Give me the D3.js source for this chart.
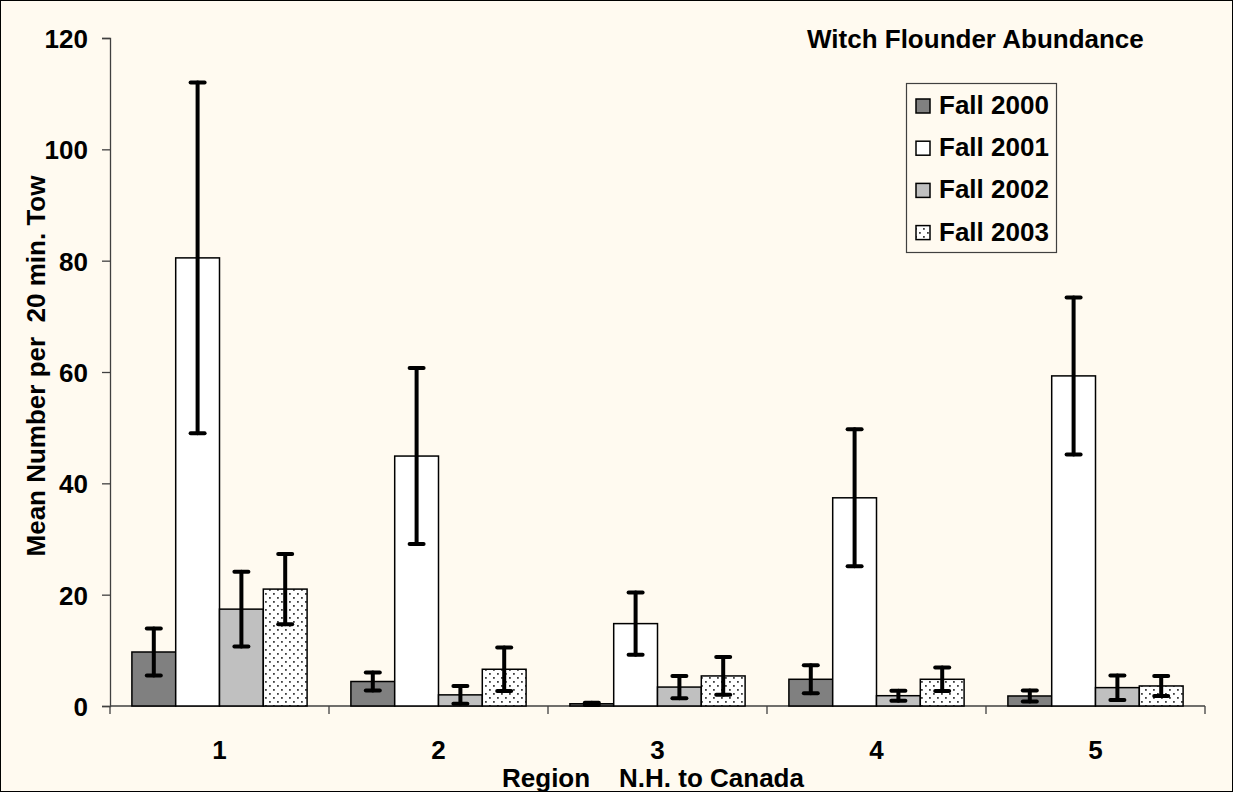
<!DOCTYPE html>
<html><head><meta charset="utf-8">
<script src="https://cdn.jsdelivr.net/npm/d3@7"></script>
<style>
html,body{margin:0;padding:0;background:#fff;}
svg text{font-family:"Liberation Sans",Arial,sans-serif;font-weight:bold;fill:#000;}
</style></head><body>
<svg id="chart" width="1233" height="792"></svg>
<script>
const regions = ["1","2","3","4","5"];
const seriesNames = ["Fall 2000","Fall 2001","Fall 2002","Fall 2003"];
const fall2000 = [9.7, 4.4, 0.4, 4.8, 1.8];
const fall2001 = [80.5, 44.9, 14.8, 37.4, 59.3];
const fall2002 = [17.4, 2.0, 3.4, 1.85, 3.3];
const fall2003 = [21.0, 6.6, 5.4, 4.8, 3.6];
const err2000 = [4.2, 1.6, 0.2, 2.5, 1.0];
const err2001 = [31.5, 15.8, 5.6, 12.3, 14.1];
const err2002 = [6.7, 1.6, 2.0, 0.9, 2.2];
const err2003 = [6.3, 3.9, 3.4, 2.1, 1.8];
const yTicks = [0, 20, 40, 60, 80, 100, 120];

(function(){
const values = [fall2000, fall2001, fall2002, fall2003];
const errors = [err2000, err2001, err2002, err2003];
const fills = ["#808080", "#ffffff", "#c0c0c0", "url(#dots)"];
const FS = 26;

const svg = d3.select("#chart");
const W = 1233, H = 792;
svg.append("rect").attr("x",0.5).attr("y",0.5).attr("width",W-1).attr("height",H-1)
  .attr("fill","#fffaf0").attr("stroke","#000").attr("stroke-width",1);

const defs = svg.append("defs");
const pat = defs.append("pattern").attr("id","dots").attr("patternUnits","userSpaceOnUse")
  .attr("width",8).attr("height",8);
pat.append("rect").attr("width",8).attr("height",8).attr("fill","#fff");
pat.append("rect").attr("x",1).attr("y",1).attr("width",1.8).attr("height",1.8).attr("fill","#404040");
pat.append("rect").attr("x",5).attr("y",5).attr("width",1.8).attr("height",1.8).attr("fill","#404040");

const pL = 110, pR = 1205, pT = 38, pB = 706;
const x = d3.scaleBand().domain(regions).range([pL, pR]).padding(0);
const bw = x.bandwidth();
const xs = d3.scaleBand().domain(d3.range(4)).range([bw*0.1, bw*0.9]).padding(0);
const y = d3.scaleLinear().domain([0,120]).range([pB, pT]);
const axisColor = "#404040";

// y axis
const yAxis = svg.append("g").attr("transform",`translate(${pL},0)`)
  .call(d3.axisLeft(y).tickValues(yTicks).tickSize(8).tickPadding(14));
yAxis.select(".domain").attr("stroke",axisColor).attr("stroke-width",1.3);
yAxis.selectAll(".tick line").attr("stroke",axisColor).attr("stroke-width",1.3);
yAxis.selectAll("text").attr("font-size",FS).attr("font-family","Liberation Sans, Arial")
  .attr("font-weight","bold").attr("fill","#000").attr("dy","0.36em");

// x axis (ticks between categories)
const xAxisG = svg.append("g").attr("transform",`translate(0,${pB})`);
const bounds = regions.map(r => x(r)).concat([pR]);
xAxisG.selectAll("line.tk").data(bounds).join("line").attr("class","tk")
  .attr("x1",d=>d).attr("x2",d=>d).attr("y1",0).attr("y2",8).attr("stroke",axisColor).attr("stroke-width",1.3);
xAxisG.selectAll("text.lbl").data(regions).join("text").attr("class","lbl")
  .attr("x",d=>x(d)+bw/2).attr("y",53).attr("text-anchor","middle").attr("font-size",FS).text(d=>d);

// bars
const groups = svg.append("g");
values.forEach((vals, si) => {
  groups.selectAll(null).data(vals).join("rect")
    .attr("x",(d,i)=>x(regions[i])+xs(si))
    .attr("y",d=>y(d))
    .attr("width",xs.bandwidth())
    .attr("height",d=>pB-y(d))
    .attr("fill",fills[si]).attr("stroke","#000").attr("stroke-width",1.5);
});
xAxisG.append("line").attr("x1",pL).attr("x2",pR).attr("stroke",axisColor).attr("stroke-width",1.3);

// error bars
values.forEach((vals, si) => {
  const g = svg.append("g").attr("stroke","#000").attr("stroke-width",4).attr("stroke-linecap","round");
  vals.forEach((v,i) => {
    const cx = x(regions[i])+xs(si)+xs.bandwidth()/2;
    const e = errors[si][i];
    const hi = y(v+e), lo = y(Math.max(0,v-e));
    g.append("line").attr("x1",cx).attr("x2",cx).attr("y1",hi).attr("y2",lo);
    g.append("line").attr("x1",cx-7).attr("x2",cx+7).attr("y1",hi).attr("y2",hi);
    g.append("line").attr("x1",cx-7).attr("x2",cx+7).attr("y1",lo).attr("y2",lo);
  });
});

// titles
svg.append("text").attr("x",807).attr("y",48).attr("font-size",FS).text("Witch Flounder Abundance");
svg.append("text").attr("transform","translate(45,366) rotate(-90)").attr("text-anchor","middle")
  .attr("font-size",FS).attr("xml:space","preserve").text("Mean Number per  20 min. Tow");
svg.append("text").attr("x",653).attr("y",787).attr("text-anchor","middle").attr("font-size",FS)
  .attr("xml:space","preserve").text("Region    N.H. to Canada");

// legend
const lg = svg.append("g").attr("transform","translate(906,83)");
lg.append("rect").attr("x",0.5).attr("y",0.5).attr("width",150).attr("height",169)
  .attr("fill","#fffaf0").attr("stroke","#404040").attr("stroke-width",1.2);
seriesNames.forEach((s,i) => {
  const base = 31 + i*42.2;
  lg.append("rect").attr("x",10).attr("y",base-15).attr("width",14).attr("height",14)
    .attr("fill",fills[i]).attr("stroke","#000").attr("stroke-width",1.5);
  lg.append("text").attr("x",33).attr("y",base).attr("font-size",FS).text(s);
});
})();
</script></body></html>
